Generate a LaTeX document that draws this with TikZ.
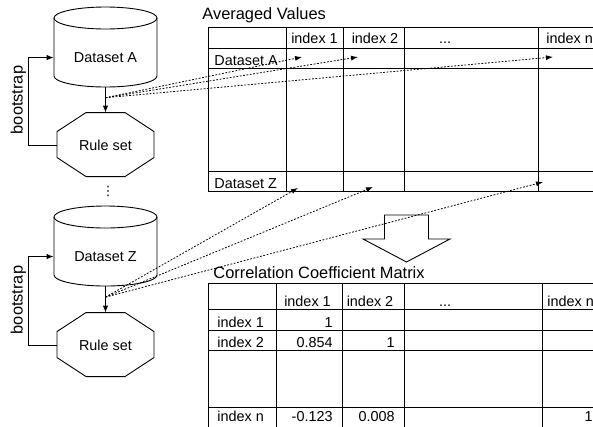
\documentclass[tikz,border=0pt]{standalone}
\usepackage{fontspec}
\setmainfont{Liberation Sans}
\newfontfamily\symfont{DejaVu Sans}
\usetikzlibrary{arrows.meta,calc}

% cylinder outline around a dataset node (drawn from its south anchor)
\newcommand\dbshape[1]{%
  \draw (#1.south) ++(-51.5,-69) -- ++(0,58)
        arc[start angle=180,end angle=0,x radius=51.5,y radius=11] -- ++(0,-58);
  \draw (#1.south) ++(0,-69) ellipse[x radius=51.5,y radius=11];}
% octagon outline around a rule-set node (drawn from its north anchor)
\newcommand\octshape[1]{%
  \draw (#1.north) ++(-19.5,0) -- ++(39,0) -- ++(29,19) -- ++(0,26)
        -- ++(-29,19) -- ++(-39,0) -- ++(-29,-19) -- ++(0,-26) -- cycle;}

\begin{document}
\begin{tikzpicture}[x=1pt,y=-1pt,line width=0.9pt,
  bodytext/.style={font=\fontsize{14.4}{17}\selectfont,inner sep=0pt},
  titletext/.style={font=\fontsize{16.4}{19}\selectfont,inner sep=0pt},
  dbnode/.style={bodytext,minimum width=103pt,minimum height=58pt},
  rulenode/.style={bodytext,minimum width=97pt,minimum height=64pt},
  solidarrow/.style={-{Latex[length=7pt,width=5.5pt]}},
  dotarrow/.style={-{Latex[length=7pt,width=5pt]},dash pattern=on 1.8pt off 1.6pt,line width=0.8pt}]

\useasboundingbox (0,0) rectangle (593,426);
\begin{scope}
\clip (0,0) rectangle (593,426);

% ---- left column: datasets and rule sets ----
\node[dbnode,anchor=south] (dsA) at (105.5,87) {Dataset A};
\node[rulenode] (rsA) at (105.5,145) {Rule set};
\node[dbnode,anchor=south] (dsZ) at (105.5,286) {Dataset Z};
\node[rulenode] (rsZ) at (105.5,345) {Rule set};
\dbshape{dsA}\dbshape{dsZ}
\octshape{rsA}\octshape{rsZ}

\draw[solidarrow] (dsA.south) -- (rsA.north);
\draw[solidarrow] (dsZ.south) -- (rsZ.north);
\draw[solidarrow] (rsA.west) -- ++(-28,0) |- (dsA.west);
\draw[solidarrow] (rsZ.west) -- ++(-28,0) |- (dsZ.west);
\node[titletext,rotate=90] (bsA) at (18.5,100) {bootstrap};
\node[titletext,rotate=90] (bsZ) at (18.5,300) {bootstrap};
\node[inner sep=0pt,font=\symfont\fontsize{13}{15}\selectfont] (gap) at (108,191) {⋮};

% ---- averaged values table ----
\node[titletext,anchor=base west] (avgT) at (202,19) {Averaged Values};
\foreach \y in {27,48,68,171,191} \draw (208,\y) -- (600,\y);
\foreach \x in {208,286,343,404,538} \draw (\x,27) -- (\x,191);
\node[bodytext,anchor=base] (a1) at (314.5,43) {index 1};
\node[bodytext,anchor=base] (a2) at (375,43) {index 2};
\node[bodytext,anchor=base] (a3) at (445,43) {...};
\node[bodytext,anchor=base west] (an) at (546,43) {index n};
\node[bodytext,anchor=base west] (rA) at (214,65) {Dataset A};
\node[bodytext,anchor=base west] (rZ) at (214,188) {Dataset Z};

% ---- correlation coefficient matrix ----
\node[titletext,anchor=base west] (corT) at (213,278) {Correlation Coefficient Matrix};
\foreach \y in {283,309,330,350,407} \draw (208,\y) -- (600,\y);
\foreach \x in {208,276,342,404,542} \draw (\x,283) -- (\x,430);
\node[bodytext,anchor=base] (c1) at (307.5,306) {index 1};
\node[bodytext,anchor=base] (c2) at (370,306) {index 2};
\node[bodytext,anchor=base] (c3) at (445,306) {...};
\node[bodytext,anchor=base west] (cn) at (547,306) {index n};
\node[bodytext,anchor=base west] (r1) at (217,327) {index 1};
\node[bodytext,anchor=base west] (r2) at (217,347) {index 2};
\node[bodytext,anchor=base west] (rn) at (217,421) {index n};
\node[bodytext,anchor=base east] (v11) at (333,327) {1};
\node[bodytext,anchor=base east] (v21) at (333,347) {0.854};
\node[bodytext,anchor=base east] (v22) at (395,347) {1};
\node[bodytext,anchor=base east] (vn1) at (333,421) {-0.123};
\node[bodytext,anchor=base east] (vn2) at (395,421) {0.008};
\node[bodytext,anchor=base east] (vnn) at (593,421) {1};

% ---- transformation arrow between the tables ----
\draw (384.5,215) -- (428.5,215) -- (428.5,239) -- (450,239) -- (406.5,262)
      -- (363,239) -- (384.5,239) -- cycle;

% ---- dotted links from each run into the averaged table ----
\coordinate (srcA) at ($(dsA.south)!0.42!(rsA.north)$);
\coordinate (srcZ) at ($(dsZ.south)!0.42!(rsZ.north)$);
\coordinate (tA1) at (302,57);
\coordinate (tA2) at (358,57);
\coordinate (tAn) at (553,57);
\coordinate (tZ1) at (298,188);
\coordinate (tZ2) at (373,187);
\coordinate (tZn) at (543,182);
\foreach \t in {tA1,tA2,tAn} \draw[dotarrow] (srcA) -- (\t);
\foreach \t in {tZ1,tZ2,tZn} \draw[dotarrow] (srcZ) -- (\t);
\end{scope}
\end{tikzpicture}
\end{document}
